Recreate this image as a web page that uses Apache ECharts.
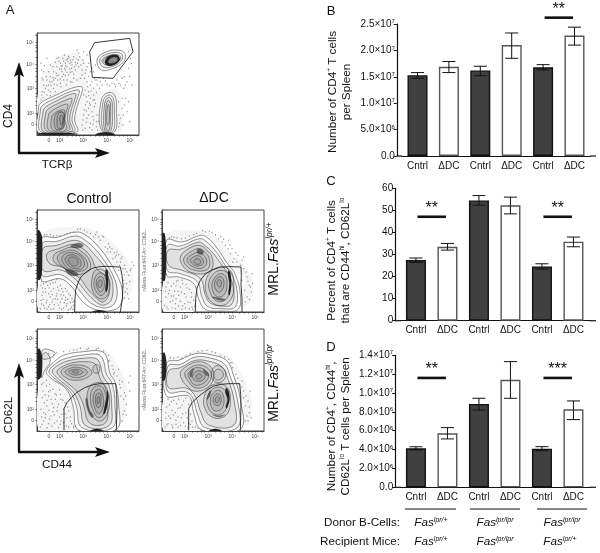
<!DOCTYPE html>
<html><head><meta charset="utf-8">
<style>html,body{margin:0;padding:0;background:#fff}#c{width:600px;height:553px}</style>
<script src="https://cdn.jsdelivr.net/npm/echarts@6/dist/echarts.min.js"></script>
</head><body><div id="c"></div>
<script>
// ---------- bar panels ----------
const categories = ['Cntrl','ΔDC','Cntrl','ΔDC','Cntrl','ΔDC'];
const barColors = ['#404040','#ffffff','#404040','#ffffff','#404040','#ffffff'];
const edgeColors = ['#111111','#555555','#111111','#555555','#111111','#555555'];

const valuesB = [1.53e7,1.69e7,1.62e7,2.10e7,1.68e7,2.28e7];
const errLowB = [1.47e7,1.58e7,1.52e7,1.85e7,1.63e7,2.10e7];
const errHighB = [1.58e7,1.79e7,1.70e7,2.33e7,1.73e7,2.44e7];
const ticksB = ['0.0','5.0×10{s|6}','1.0×10{s|7}','1.5×10{s|7}','2.0×10{s|7}','2.5×10{s|7}'];
const sigB = [[4,5,2.62e7,'**']];

const valuesC = [27.5,33.5,54.5,52.3,24.6,35.8];
const errLowC = [26.4,32.0,52.4,48.4,23.4,33.5];
const errHighC = [28.4,35.0,56.7,56.0,25.8,37.9];
const ticksC = ['0','10','20','30','40','50','60'];
const sigC = [[0,1,47.1,'**'],[4,5,47.1,'**']];

const valuesD = [4.14e6,5.73e6,8.84e6,11.4e6,4.10e6,8.27e6];
const errLowD = [3.96e6,5.13e6,8.20e6,9.44e6,3.89e6,7.18e6];
const errHighD = [4.30e6,6.33e6,9.44e6,13.33e6,4.31e6,9.16e6];
const ticksD = ['0.0','2.0×10{s|6}','4.0×10{s|6}','6.0×10{s|6}','8.0×10{s|6}','1.0×10{s|7}','1.2×10{s|7}','1.4×10{s|7}'];
const sigD = [[0,1,11.6e6,'**'],[4,5,11.6e6,'***']];

const donorCells = ['{i|Fas}{s|lpr/+}','{i|Fas}{s|lpr/lpr}','{i|Fas}{s|lpr/lpr}'];
const recipientMice = ['{i|Fas}{s|lpr/+}','{i|Fas}{s|lpr/lpr}','{i|Fas}{s|lpr/+}'];

// ---------- flow plots: channel units, axis runs 0..306 on both sides ----------
const flowXTicks = [36,68,90,105,118,128,138,160,175,188,198,211,233,248,260,270,280,300];
const flowYTicks = [32,65,88,102,115,125,140,162,176,190,200,212,234,250,262,270,277,298];
const flowXLabels = [[36,'0'],[68,'10²'],[138,'10³'],[211,'10⁴'],[280,'10⁵']];
const flowYLabels = [[32,'0'],[65,'10²'],[140,'10³'],[212,'10⁴'],[277,'10⁵']];

const aTint = [[5,60,8,150,30,205,70,238,125,240,152,200,150,160,190,132,240,140,252,100,250,10,130,10],[65,200,95,235,125,225,120,195,90,185]];
const aOuter = [
 [6,7,4,75,10,95,58,120,103,140,133,145,136,133,120,85,113,45,120,10],
 [193,15,193,105,213,127,233,120,238,75,233,10],
 [180,225,198,245,238,255,263,245,260,220,228,200,193,195]];
const aLines = [
 [12,10,10,72,18,90,60,112,100,130,126,135,126,125,112,82,105,45,112,12],
 [20,10,18,70,26,84,60,103,95,120,116,124,116,115,104,80,98,45,104,12],
 [28,12,26,66,34,78,62,94,90,106,104,110,104,100,95,75,92,45,96,14],
 [36,14,35,62,44,72,64,84,84,92,92,92,92,84,88,70,84,45,88,16],
 [46,16,44,55,52,64,64,72,78,76,84,72,82,60,78,42,76,18],
 [56,18,52,50,60,66,72,70,82,62,80,40,72,20],
 [64,20,60,50,66,66,78,68,82,50,80,22],
 [72,30,68,50,72,60,78,52,76,32],
 [198,14,198,100,213,120,228,112,232,75,228,12],
 [203,14,203,95,214,113,224,104,226,75,222,14],
 [207,16,207,88,214,104,220,96,220,70,217,16],
 [210,30,210,75,214,92,217,80,216,35],
 [188,225,203,240,238,248,256,240,252,222,228,206,198,204],
 [195,224,208,235,235,242,250,235,246,222,226,211,204,211],
 [200,224,212,234,238,238,246,230,240,218,224,210,208,212]];
const aDark = [
 [3,1,110,1,125,3,100,6,50,7,5,6],[175,1,235,1,225,6,205,8,185,6],
 [204,222,215,237,240,240,249,228,240,215,222,207,207,211]];
const aMid = [[214,222,225,232,240,232,240,222,228,216,216,216]];
const aGate = [158,250,173,277,278,290,288,250,228,170,166,173,158,250];
const aDots = [93,220,85,215,100,225,78,230,105,210,90,205,110,235,70,215,115,218,82,240,96,232,125,225,60,205,50,190,40,175,30,165,20,150,15,130,25,140,35,150,45,160,55,170,65,180,75,190,85,195,95,180,105,190,115,195,125,205,135,195,140,215,150,205,145,185,130,170,120,165,110,170,100,160,90,165,80,165,70,155,60,150,50,140,40,130,30,120,18,112,12,105,150,160,160,150,170,140,180,150,190,160,200,170,210,150,225,155,240,165,250,150,260,140,170,120,160,110,150,100,140,120,145,90,155,80,165,70,175,95,180,60,170,45,160,35,150,50,140,60,135,30,145,20,165,15,178,25,185,40,245,100,255,80,250,50,258,30,245,25,265,110,270,70,145,135,155,130,175,165,195,150,235,145,270,160,275,200,280,230,150,240,140,250,120,255,160,225,170,190,175,210,125,245,60,230,40,210,20,190,15,170,12,215,30,230,88,225,102,218,76,208,98,198,112,205,120,228,68,198,58,185,48,172,38,160,28,148,75,175,85,178,62,165,52,152,135,180,142,170,155,175,165,160,148,115,158,95,168,55,155,60,142,75,138,45,172,105,
 92,228,80,222,72,206,86,208,99,214,108,226,117,210,94,236,104,200,83,200,66,222,74,198,122,215,128,235,110,182,100,188,90,188,80,182,70,168,60,178,50,165,42,148,34,135,22,128,28,175,18,165,22,208,14,195,35,190,48,205,55,218,65,232,132,210,138,225,147,195,155,215,160,190,165,200,172,170,180,165,187,172,205,162,218,148,232,152,246,155,255,170,265,150,278,175,283,215,275,250,285,150,262,175,152,145,162,132,178,128,188,140,168,105,155,118,148,72,160,90,172,85,178,40,158,22,148,38,138,15,168,32,182,15,245,60,248,35,260,60,255,110,262,90,275,100,278,40,15,120,20,100,40,118,55,130,72,145,88,150,105,158];

const ctTint = [[8,2,8,97,50,108,100,80,113,45,113,2],[14,235,120,256,185,240,240,195,285,130,282,60,258,35,255,120,14,120]];
const ctOuter = [[14,220,60,224,118,240,150,228,185,195,215,155,235,120,255,70,250,20,225,5,185,5,150,20,125,45,105,75,70,100,14,95]];
const ctLines = [
 [16,205,60,212,115,228,145,215,178,185,208,145,228,110,240,70,235,30,215,14,190,14,160,28,135,55,110,85,70,112,16,110],
 [18,190,60,200,110,215,140,205,170,175,200,140,222,105,228,70,222,35,205,22,190,22,168,38,145,62,118,95,75,125,18,125],
 [30,175,65,190,108,203,135,192,162,165,175,135,190,120,215,100,218,65,210,40,195,30,172,48,150,72,130,100,100,118,75,135,38,145],
 [50,170,75,185,108,195,135,180,155,160,160,130,140,115,110,115,75,135,52,150],
 [62,168,85,182,110,185,132,172,148,155,150,132,130,122,105,122,80,135,65,150],
 [75,165,95,178,125,172,140,155,140,135,120,125,95,130,78,148],
 [85,162,105,172,125,162,132,148,125,132,105,132,90,145],
 [95,160,110,165,122,155,122,142,108,138,97,147],
 [165,100,175,125,200,125,215,100,215,60,200,40,180,45,165,70],
 [172,95,182,115,198,115,208,95,206,65,195,50,182,55,172,75],
 [178,92,186,105,196,105,202,90,200,70,190,60,182,68],
 [183,88,189,96,195,92,193,76,186,74]];
const ctDark = [
 [1,245,8,244,15,225,16,160,14,110,8,96,1,98],[206,128,212,125,214,85,209,60,205,65,207,90,205,110],
 [165,1,185,6,210,1]];
const ctMid = [[100,198,125,208,140,200,130,192,110,192],[85,128,105,125,125,112,110,108,92,115]];
const ctGate = [113,0,114,40,116,67,124,90,133,107,150,122,168,132,188,136,208,137,250,135,255,110,258,82,256,40,250,0];
const ctDots = [20,20,30,35,15,50,25,70,40,85,55,90,70,80,85,70,95,55,105,40,110,20,90,25,75,40,60,55,45,30,35,15,50,10,65,20,80,12,100,10,20,85,12,35,18,60,35,55,50,70,65,65,80,50,92,38,70,30,55,40,40,45,28,90,12,80,48,88,62,75,78,60,100,28,108,8,85,35,30,8,42,62,150,240,170,225,190,215,205,195,220,180,235,165,250,150,265,130,275,110,245,125,260,95,270,70,240,180,255,165,200,225,180,240,130,250,110,240,90,235,70,228,50,228,30,232,215,205,285,150,265,60,275,40,255,40,160,235,185,225,210,180,228,160,262,140,280,125,225,190,245,172,262,112,
 10,10,22,12,38,22,52,22,68,12,88,18,104,15,112,34,100,50,86,44,72,52,58,48,46,52,36,72,26,60,16,72,14,92,32,80,44,96,60,98,74,70,90,62,108,30,82,28,62,38,48,38,28,28,18,38,14,24,42,8,74,8,94,6,218,195,232,178,252,160,270,120,258,130,248,140,238,170,196,228,176,232,142,245,122,248,100,238,84,232,60,230,40,232,22,232,268,85,258,75,272,55,262,42,278,92,282,130,290,140,240,150,212,190];

const cbTint = [[8,2,8,150,40,165,88,130,108,75,125,3],[14,235,60,240,110,250,190,252,240,200,270,130,265,40,245,20,245,130,215,180,140,240]];
const cbOuter = [[28,180,60,215,88,230,140,238,190,240,208,225,218,175,235,145,245,80,238,5,125,3,108,75,88,125,40,160]];
const cbLines = [
 [36,180,65,208,95,220,140,228,182,230,198,215,208,172,226,140,234,80,226,10,135,10,118,75,98,120,50,160],
 [46,180,72,202,100,212,140,218,175,218,188,205,198,165,216,135,224,80,216,16,146,16,128,78,108,118,62,158],
 [60,178,80,195,108,205,140,208,168,205,178,195,188,160,205,130,212,80,205,24,158,24,138,82,118,120,78,155],
 [72,178,95,195,125,198,150,192,165,175,150,160,120,152,90,158],
 [84,178,105,190,128,190,148,182,150,172,125,160,100,164],
 [95,178,112,185,130,183,138,176,122,168,105,170],
 [105,178,118,181,126,177,116,173],
 [168,190,178,200,188,192,185,175,172,175],
 [150,95,160,135,190,145,208,130,218,85,205,40,185,30,162,50],
 [160,95,168,128,190,135,202,122,210,82,198,48,184,40,170,58],
 [168,95,175,120,188,125,196,112,200,82,192,58,184,52,175,65],
 [175,95,180,112,190,112,192,95,188,72,180,72],
 [180,95,184,104,188,100,186,84,182,82],
 [15,240,28,246,55,232,20,215],[15,225,28,235,40,210,22,180,14,160]];
const cbDark = [
 [1,245,8,247,15,225,16,195,13,165,7,155,1,155],[211,122,215,100,205,55,199,50,204,80,209,105],
 [160,1,180,7,200,1]];
const cbMid = [[150,100,158,65,170,45,165,40,152,60,145,95]];
const cbGate = [81,2,81,40,81,67,90,85,103,100,120,116,143,130,165,138,188,142,236,142,239,110,240,75,239,40,238,2];
const cbDots = [15,20,25,40,12,65,22,85,35,105,48,125,38,140,55,95,70,110,85,85,95,60,100,30,110,15,75,50,60,30,45,15,30,10,20,55,50,70,65,80,80,65,90,40,65,10,80,25,42,45,30,75,18,120,28,135,14,140,42,95,60,60,72,30,95,12,115,150,230,170,250,130,260,95,262,60,255,30,248,140,228,185,205,225,200,240,150,245,120,243,80,238,50,228,35,232,215,210,225,195,240,165,262,115,275,145,268,80,155,248,178,246,98,240,
 10,12,20,30,34,22,52,24,70,20,88,15,104,22,100,42,84,52,68,42,52,48,38,36,26,50,14,42,16,100,30,92,46,82,58,108,72,95,62,72,48,58,36,62,24,108,40,122,54,112,28,152,18,145,35,118,110,10,118,30,92,72,78,92,68,124,256,148,266,105,252,105,268,48,258,50,248,152,232,175,216,210,184,248,130,248,110,242,60,234,245,185,278,120,280,165,215,228];

const dtTint = [[5,2,8,100,50,112,92,85,105,25,100,2],[14,232,115,245,150,235,200,185,262,120,275,60,255,20,240,20,240,110,14,110]];
const dtOuter = [[14,215,60,210,115,230,135,224,165,192,195,147,220,112,235,52,228,8,180,3,130,8,110,40,95,85,50,105,14,110]];
const dtLines = [
 [16,200,55,198,112,220,132,212,160,184,188,142,212,108,226,55,218,14,180,10,138,16,120,45,105,92,55,115,16,125],
 [18,185,55,188,110,210,128,200,152,178,180,140,204,105,216,58,208,22,180,18,146,26,130,50,115,100,60,125,20,140],
 [55,165,80,190,112,200,135,185,150,165,150,130,125,115,90,118,65,135],
 [65,160,85,180,112,190,130,178,142,160,140,132,120,123,92,127,72,140],
 [75,158,90,172,112,180,125,170,134,155,130,138,112,130,92,136,80,145],
 [85,155,98,167,112,168,122,158,124,146,110,138,95,142],
 [95,152,105,160,115,155,116,147,105,143],
 [130,85,145,120,175,135,205,125,215,90,210,45,185,20,155,25,135,50],
 [140,85,152,112,175,125,198,115,206,85,200,50,182,32,160,35,145,58],
 [150,85,160,105,175,115,190,108,195,85,190,58,175,45,160,50,152,65],
 [158,88,168,104,180,104,186,88,180,65,170,60,160,70],
 [165,90,172,97,178,90,175,75,168,78]];
const dtDark = [
 [1,237,8,235,12,200,13,150,10,100,6,92,1,95],[199,125,205,118,208,85,203,50,199,55,202,85,198,110]];
const dtMid = [[108,190,125,182,120,172,105,178],[150,45,165,37,185,34,190,38,170,43]];
const dtGate = [100,0,101,40,105,72,115,95,130,114,150,126,175,135,205,136,237,135,238,110,237,82,240,40,240,0];
const dtDots = [15,15,25,30,12,45,22,65,35,85,48,95,62,85,75,72,88,58,95,35,90,15,72,45,58,60,42,40,30,12,50,18,68,25,82,10,18,88,12,75,38,62,55,75,78,30,60,8,42,78,28,48,150,238,170,220,190,200,205,175,225,150,245,130,255,105,262,80,255,45,268,60,228,170,210,190,185,218,130,240,95,232,70,222,45,222,28,226,245,165,200,215,270,115,212,150,240,95,248,65,
 8,20,18,8,40,25,55,32,70,12,85,28,98,18,88,45,68,55,50,50,35,48,20,55,10,62,28,78,44,92,60,95,72,82,82,68,48,62,32,34,62,18,40,10,92,8,142,242,160,232,180,210,198,190,216,160,236,140,252,120,258,92,265,75,250,30,262,38,272,85,240,155,222,178,204,202,176,226,122,244,104,236,82,228,58,220,36,224,22,222];

const dbTint = [[6,2,8,100,70,105,85,95,95,55,118,3],[14,225,55,222,100,245,150,240,200,225,240,170,268,100,262,20,240,20,240,95,14,120]];
const dbOuter = [[15,205,50,212,100,232,150,228,195,210,215,165,235,95,235,5,120,3,95,55,85,100,70,107,12,107]];
const dbLines = [
 [18,195,55,200,100,222,148,218,188,200,206,160,226,95,226,10,130,10,105,55,92,100,70,118,18,118],
 [20,180,55,190,100,212,145,208,180,192,198,155,216,92,216,18,140,18,115,60,102,100,75,128,20,130],
 [55,175,75,195,110,208,140,198,155,175,150,145,128,125,95,120,75,135,62,150],
 [68,172,85,190,110,198,135,190,148,172,142,148,125,132,98,130,82,145],
 [78,170,92,186,112,190,130,182,140,168,133,150,112,138,94,140,84,155],
 [92,168,105,180,120,178,130,168,122,152,105,150,95,155],
 [102,165,112,172,120,165,114,157,104,158],
 [148,170,160,195,182,190,192,170,180,148,158,148],
 [155,170,165,185,178,182,184,168,175,155,160,155],
 [125,95,140,130,170,142,198,128,205,90,198,55,172,38,145,45,130,65],
 [135,95,148,122,170,132,190,120,196,88,190,62,170,48,150,55,138,72],
 [145,95,155,115,170,122,182,112,186,88,180,68,168,60,152,65],
 [153,95,162,110,172,110,178,95,172,78,160,78],
 [160,95,166,103,172,98,168,86,162,86]];
const dbDark = [
 [1,232,8,235,13,210,13,175,8,152,1,150],[192,130,199,122,203,95,195,68,191,72,197,95,190,115],
 [140,1,160,7,180,1]];
const dbMid = [[82,170,88,182,96,187,92,175,88,160],[122,185,136,176,140,165,132,168],[138,95,148,118,144,122,133,95],[150,50,170,41,190,50,170,46]];
const dbGate = [80,2,80,40,80,67,90,85,105,100,128,118,155,135,178,140,200,142,233,142,236,110,237,75,236,40,235,2];
const dbDots = [15,18,25,38,12,55,22,78,35,92,50,95,65,90,80,80,85,50,90,30,72,55,55,70,40,55,30,18,48,12,65,25,78,10,100,12,18,95,58,40,42,32,70,14,85,20,150,238,175,225,200,215,222,170,232,140,245,120,258,90,262,55,250,30,258,30,205,205,240,150,120,240,85,232,60,218,35,218,250,75,265,120,
 9,12,18,22,32,10,42,20,56,16,80,22,92,12,108,8,76,40,62,52,48,68,30,62,14,72,28,88,44,82,60,78,72,98,48,42,34,48,20,45,12,38,160,235,188,222,212,190,228,158,240,132,252,105,262,72,255,45,268,40,210,205,135,242,108,238,72,225,48,222,25,220,245,100];

const flowPlots = [
 {left:37,top:33,tint:aTint,dots:aDots,outer:aOuter,lines:aLines,mid:aMid,dark:aDark,gate:aGate,name:''},
 {left:37,top:210,tint:ctTint,dots:ctDots,outer:ctOuter,lines:ctLines,mid:ctMid,dark:ctDark,gate:ctGate,name:''},
 {left:162,top:210,tint:dtTint,dots:dtDots,outer:dtOuter,lines:dtLines,mid:dtMid,dark:dtDark,gate:dtGate,name:'<Alexa Fluor 647-A>: CD62L'},
 {left:37,top:329,tint:cbTint,dots:cbDots,outer:cbOuter,lines:cbLines,mid:cbMid,dark:cbDark,gate:cbGate,name:''},
 {left:162,top:329,tint:dbTint,dots:dbDots,outer:dbOuter,lines:dbLines,mid:dbMid,dark:dbDark,gate:dbGate,name:'<Alexa Fluor 647-A>: CD62L'}
];

const FONT = '"Liberation Sans", Arial, sans-serif';
const grids=[], xAxes=[], yAxes=[], series=[];

function barPanel(o){
  const i = grids.length;
  grids.push({left:o.left, width:o.width, top:o.top, height:o.height});
  xAxes.push({gridIndex:i,type:'category',data:categories,
    axisLine:{lineStyle:{color:'#111',width:1.2}},
    axisTick:{alignWithLabel:true,length:3,lineStyle:{color:'#111'}},
    axisLabel:{fontFamily:FONT,fontSize:10,color:'#111',margin:5,interval:0}});
  yAxes.push({gridIndex:i,type:'value',min:0,max:o.max,interval:o.max/(o.ticks.length-1),offset:o.offset,
    splitLine:{show:false},
    axisLine:{show:true,lineStyle:{color:'#111',width:1.2}},
    axisTick:{show:true,length:3,lineStyle:{color:'#111'}},
    axisLabel:{fontFamily:FONT,fontSize:10,color:'#111',margin:2,
      formatter:(v)=>o.ticks[Math.round(v/(o.max/(o.ticks.length-1)))],
      rich:{s:{fontSize:6,fontFamily:FONT,color:'#111',verticalAlign:'top',lineHeight:11}}},
    name:o.title,nameLocation:'middle',nameGap:o.nameGap,nameRotate:90,
    nameTextStyle:{fontFamily:FONT,fontSize:11.7,color:'#111',lineHeight:14,padding:o.namePad,
      rich:{s:{fontSize:6.5,fontFamily:FONT,color:'#111',verticalAlign:'top',lineHeight:14}}}});
  series.push({type:'bar',xAxisIndex:i,yAxisIndex:i,barWidth:20,silent:true,animation:false,
    data:o.values.map((v,k)=>({value:v,itemStyle:{color:barColors[k],borderColor:edgeColors[k],borderWidth:1.4}}))});
  series.push({type:'custom',xAxisIndex:i,yAxisIndex:i,silent:true,animation:false,z:5,
    data:o.low.map((l,k)=>[k,l,o.high[k]]),
    renderItem:(p,api)=>{
      const a=api.coord([api.value(0),api.value(1)]), b=api.coord([api.value(0),api.value(2)]);
      const s={stroke:'#111',lineWidth:1,fill:null};
      return {type:'group',children:[
        {type:'line',shape:{x1:a[0],y1:a[1],x2:b[0],y2:b[1]},style:s},
        {type:'line',shape:{x1:a[0]-6.5,y1:a[1],x2:a[0]+6.5,y2:a[1]},style:s},
        {type:'line',shape:{x1:b[0]-6.5,y1:b[1],x2:b[0]+6.5,y2:b[1]},style:s}]};
    }});
  series.push({type:'custom',xAxisIndex:i,yAxisIndex:i,silent:true,animation:false,z:6,clip:false,
    data:o.sig.map(s=>[s[0],s[1],s[2]]),
    renderItem:(p,api)=>{
      const a=api.coord([api.value(0),api.value(2)]), b=api.coord([api.value(1),api.value(2)]);
      const cx=(a[0]+b[0])/2;
      return {type:'group',children:[
        {type:'line',shape:{x1:a[0]+1.5,y1:a[1],x2:b[0]-1.5,y2:a[1]},style:{stroke:'#111',lineWidth:2.6,fill:null}},
        {type:'text',x:cx,y:a[1]-16,style:{text:o.sig[p.dataIndex][3],fontFamily:FONT,fontSize:16,fill:'#111',textAlign:'center',textVerticalAlign:'top'}}]};
    }});
}
barPanel({left:401.8,width:188.4,top:24,height:132,max:2.5e7,ticks:ticksB,offset:5,values:valuesB,low:errLowB,high:errHighB,sig:sigB,
  title:'Number of CD4{s|+} T cells\nper Spleen',nameGap:43,namePad:[0,4,0,0]});
barPanel({left:400.2,width:189,top:188.3,height:132.4,max:60,ticks:ticksC,offset:5,values:valuesC,low:errLowC,high:errHighC,sig:sigC,
  title:'Percent of CD4{s|+} T cells\nthat are CD44{s|hi}, CD62L{s|lo}',nameGap:42,namePad:[0,12,0,0]});
barPanel({left:400.2,width:189,top:355.3,height:132,max:1.4e7,ticks:ticksD,offset:5,values:valuesD,low:errLowD,high:errHighD,sig:sigD,
  title:'Number of CD4{s|+}, CD44{s|hi},\nCD62L{s|lo} T cells per Spleen',nameGap:42,namePad:[0,10,0,0]});

function polySeries(i,polys,style,smooth,z){
  series.push({type:'custom',xAxisIndex:i,yAxisIndex:i,silent:true,animation:false,z,clip:true,
    data:polys.map((_,k)=>[k,k]),
    renderItem:(p,api)=>{
      const f=polys[p.dataIndex], pts=[];
      for(let j=0;j<f.length;j+=2) pts.push(api.coord([f[j],f[j+1]]));
      return {type:'polygon',shape:{points:pts,smooth},style};
    }});
}
flowPlots.forEach(fp=>{
  const i=grids.length;
  grids.push({left:fp.left,top:fp.top,width:102,height:102,show:true,backgroundColor:'#fff',borderColor:'#444',borderWidth:1});
  xAxes.push({gridIndex:i,type:'value',min:0,max:306,splitLine:{show:false},
    axisLine:{show:true,lineStyle:{color:'#444',width:1}},
    axisTick:{show:true,length:1.5,lineStyle:{color:'#333',width:0.7},customValues:flowXTicks},
    axisLabel:{fontFamily:FONT,fontSize:5,color:'#444',margin:3,
      customValues:flowXLabels.map(l=>l[0]),
      formatter:v=>(flowXLabels.find(l=>l[0]===v)||[0,''])[1]}});
  yAxes.push({gridIndex:i,type:'value',min:0,max:306,splitLine:{show:false},
    axisLine:{show:true,lineStyle:{color:'#444',width:1}},
    axisTick:{show:true,length:1.5,lineStyle:{color:'#333',width:0.7},customValues:flowYTicks},
    axisLabel:{fontFamily:FONT,fontSize:5,color:'#444',margin:3,
      customValues:flowYLabels.map(l=>l[0]),
      formatter:v=>(flowYLabels.find(l=>l[0]===v)||[0,''])[1]},
    name:fp.name,nameLocation:'middle',nameGap:14,nameRotate:90,
    nameTextStyle:{fontFamily:FONT,fontSize:4.8,color:'#666'}});
  polySeries(i,fp.tint,{fill:'#f5f5f5',stroke:null},0.3,1);
  const dots=[]; for(let j=0;j<fp.dots.length;j+=2) dots.push([fp.dots[j],fp.dots[j+1]]);
  series.push({type:'scatter',xAxisIndex:i,yAxisIndex:i,silent:true,animation:false,symbol:'rect',symbolSize:1,z:2,
    itemStyle:{color:'#444'},data:dots});
  polySeries(i,fp.outer,{fill:'#fff',stroke:'#444',lineWidth:0.6},0.4,3);
  polySeries(i,fp.lines,{fill:'rgba(0,0,0,0.06)',stroke:'#444',lineWidth:0.6},0.4,4);
  polySeries(i,fp.mid,{fill:'rgba(30,30,30,0.55)',stroke:null},0.4,5);
  polySeries(i,fp.dark,{fill:'#222',stroke:null},0.3,6);
  if(fp===flowPlots[0]) polySeries(i,aMid,{fill:'#888',stroke:'#555',lineWidth:0.5},0.4,7);
  const g=[]; for(let j=0;j<fp.gate.length;j+=2) g.push([fp.gate[j],fp.gate[j+1]]);
  series.push({type:'line',xAxisIndex:i,yAxisIndex:i,silent:true,animation:false,symbol:'none',z:8,data:g,
    lineStyle:{color:'#222',width:0.9}});
});

// ---------- annotation helpers ----------
const txt=(text,x,y,size,opt={})=>({type:'text',x,y,rotation:opt.rot||0,silent:true,z:20,style:Object.assign({
  text,fontFamily:FONT,fontSize:size,fill:'#111',textAlign:opt.align||'center',textVerticalAlign:'middle',
  rich:{i:{fontFamily:FONT,fontStyle:'italic',fontSize:size,fill:'#111'},
        s:{fontFamily:FONT,fontStyle:'italic',fontSize:size*0.6,fill:'#111',verticalAlign:'top',lineHeight:size+2},
        n:{fontFamily:FONT,fontSize:size,fill:'#111'}}},opt.style||{})});
const ln=(x1,y1,x2,y2,w)=>({type:'line',silent:true,z:20,shape:{x1,y1,x2,y2},style:{stroke:'#111',lineWidth:w}});
const tri=(pts)=>({type:'polygon',silent:true,z:20,shape:{points:pts},style:{fill:'#111'}});
const R90=Math.PI/2;
const arrows=(x,yb,yt,xr)=>[ln(x,yb,x,yt+8,2.4),ln(x-1,yb,xr-8,yb,2.4),
  tri([[x,yt],[x+5,yt+15],[x,yt+12],[x-5,yt+15]]),
  tri([[xr,yb],[xr-15,yb+5],[xr-12,yb],[xr-15,yb-5]])];

const graphics=[
  txt('A',10,10,13),txt('B',331,11,13),txt('C',331,181,13),txt('D',331,347,13),
  ...arrows(19,153,62,110),...arrows(19,452,363,110),
  txt('CD4',9,116,12,{rot:R90}),txt('TCRβ',57,165,11.7),
  txt('CD62L',9,415,11.7,{rot:R90}),txt('CD44',57,465,11.7),
  txt('Control',89,199,14),txt('ΔDC',214,198,14),
  txt('{n|MRL.}{i|Fas}{s|lpr/+}',274,259,14,{rot:R90}),
  txt('{n|MRL.}{i|Fas}{s|lpr/lpr}',274,383,14,{rot:R90}),
  ln(405,509,456,509,1),ln(470,509,520,509,1),ln(537,509,587,509,1),
  txt('Donor B-Cells:',400,523,11.7,{align:'right'}),
  txt('Recipient Mice:',400,542,11.7,{align:'right'}),
  ln(396.8,156,402,156,1.2),ln(590,156,596,156,1.2),
  ln(395,320.7,401,320.7,1.2),ln(589,320.7,596,320.7,1.2),
  ln(395,487.3,401,487.3,1.2),ln(589,487.3,596,487.3,1.2),
];
[431,495,562].forEach((x,k)=>{
  graphics.push(txt(donorCells[k],x,523,11.7));
  graphics.push(txt(recipientMice[k],x-(k==2?2:0),542,11.7));
});

const chart=echarts.init(document.getElementById('c'),null,{renderer:'canvas'});
chart.setOption({animation:false,backgroundColor:'#fff',textStyle:{fontFamily:FONT},
  grid:grids,xAxis:xAxes,yAxis:yAxes,series,graphic:{elements:graphics}});
</script></body></html>
